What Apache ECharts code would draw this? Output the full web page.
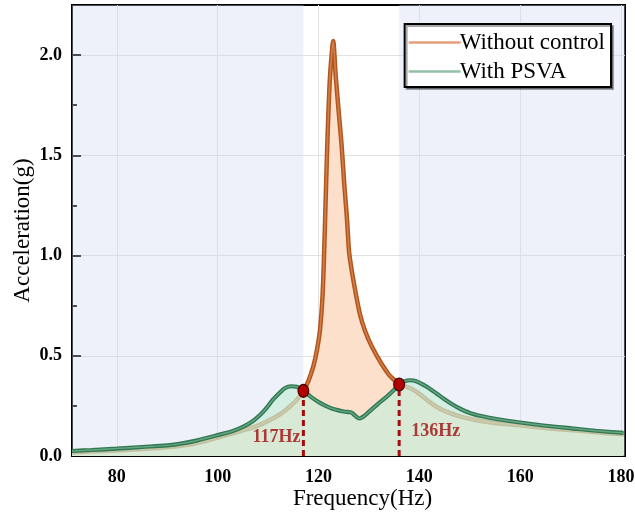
<!DOCTYPE html>
<html><head><meta charset="utf-8">
<script src="https://cdn.jsdelivr.net/npm/echarts@6/dist/echarts.min.js"></script>
<style>html,body{margin:0;padding:0;background:#fff}#c{width:635px;height:512px}</style>
</head><body><div id="c"></div>
<script>
const seriesNames = ['Without control', 'With PSVA'];

const freqNoCtrl = [71.1, 75, 80, 85, 90, 95, 100, 103, 105, 107, 109, 111, 112.5, 114, 115.5, 117, 118, 119, 119.7, 120.3, 120.8, 121.1, 121.5, 121.8, 122.1, 122.3, 122.6, 122.9, 123.4, 124.0, 124.6, 125.1, 125.6, 125.85, 126.1, 126.9, 128.2, 129.3, 130.6, 132.5, 134, 135.2, 136, 137.5, 138.5, 140, 142, 144, 146, 148, 150.7, 155, 160, 165, 170.6, 175, 180.5];
const accNoCtrl = [0.017, 0.022, 0.028, 0.035, 0.044, 0.06, 0.092, 0.113, 0.128, 0.143, 0.163, 0.188, 0.21, 0.24, 0.275, 0.325, 0.375, 0.45, 0.53, 0.63, 0.8, 1.0, 1.35, 1.6, 1.8, 1.9, 2.0, 2.07, 1.9, 1.72, 1.545, 1.36, 1.2, 1.1, 1.01, 0.88, 0.71, 0.62, 0.545, 0.46, 0.405, 0.375, 0.357, 0.345, 0.335, 0.31, 0.27, 0.237, 0.215, 0.198, 0.182, 0.165, 0.153, 0.14, 0.128, 0.118, 0.108];

const freqPSVA = [71.1, 75, 80, 85, 90, 93, 96, 100, 103, 105, 107, 108.5, 109.7, 111, 112.4, 113.3, 114.5, 115.7, 117, 118.5, 120.3, 122.3, 123.6, 125, 126.3, 126.8, 127.3, 128.1, 129, 130.2, 131.8, 133.5, 134.8, 136, 137, 138.2, 139.5, 141, 142, 143.4, 145, 146.5, 148, 150, 152.5, 155, 160, 165, 170.6, 175, 180.5];
const accPSVA = [0.025, 0.03, 0.037, 0.045, 0.053, 0.063, 0.078, 0.104, 0.125, 0.145, 0.175, 0.207, 0.24, 0.282, 0.318, 0.338, 0.348, 0.345, 0.325, 0.295, 0.265, 0.24, 0.23, 0.222, 0.218, 0.212, 0.2, 0.187, 0.198, 0.225, 0.26, 0.295, 0.325, 0.357, 0.372, 0.378, 0.372, 0.352, 0.337, 0.312, 0.283, 0.258, 0.237, 0.215, 0.198, 0.186, 0.167, 0.151, 0.137, 0.126, 0.115];

const crossFreq = [117, 136];
const crossAcc = [0.325, 0.357];
const crossLabels = ['117Hz', '136Hz'];
const crossLabelAcc = [0.095, 0.125];

const shadedBands = [[71.1, 117], [136, 180.8]];
const xMajorTicks = [80, 100, 120, 140, 160, 180];
const xMinorTicks = [90, 110, 130, 150, 170];
const yMajorTicks = [0, 0.5, 1.0, 1.5, 2.0];
const yMinorTicks = [0.25, 0.75, 1.25, 1.75];

const zip = (a, b) => a.map((v, i) => [v, b[i]]);
const SERIF = 'Liberation Serif';
const XMIN = 71.1, XMAX = 180.8, YMIN = 0, YMAX = 2.25;

const chart = echarts.init(document.getElementById('c'), null, {renderer: 'canvas'});

const tickStyle = {color: '#000', width: 2};
const series = [
  {
    type: 'line', data: [[XMIN, 0]], symbol: 'none', lineStyle: {opacity: 0}, silent: true, z: 1,
    markArea: {silent: true, itemStyle: {color: 'rgba(205,215,240,0.35)'},
      data: shadedBands.map(b => [{xAxis: b[0]}, {xAxis: b[1]}])}
  },
  {
    name: seriesNames[0], type: 'line', data: zip(freqNoCtrl, accNoCtrl), smooth: 0.3, symbol: 'none', z: 2,
    itemStyle: {color: '#e4a07a'},
    lineStyle: {color: '#b0561e', width: 4.5}, areaStyle: {color: '#fde0cc', opacity: 1}
  },
  {
    name: seriesNames[0], type: 'line', data: zip(freqNoCtrl, accNoCtrl), smooth: 0.3, symbol: 'none', z: 2,
    itemStyle: {color: '#e4a07a'},
    lineStyle: {color: '#d47c45', width: 1.6}
  },
  {
    name: seriesNames[1], type: 'line', data: zip(freqPSVA, accPSVA), smooth: 0.3, symbol: 'none', z: 3,
    itemStyle: {color: '#8fc0a4'},
    lineStyle: {color: '#2f7852', width: 4.2}, areaStyle: {color: 'rgba(199,238,216,0.7)', opacity: 1}
  },
  {
    name: seriesNames[1], type: 'line', data: zip(freqPSVA, accPSVA), smooth: 0.3, symbol: 'none', z: 3,
    itemStyle: {color: '#8fc0a4'},
    lineStyle: {color: '#66a482', width: 1.5}
  }
];
crossFreq.forEach((f, i) => {
  series.push({
    type: 'line', data: [[f, 0], [f, crossAcc[i]]], symbol: 'none', z: 4,
    lineStyle: {color: '#a50c0c', width: 3, type: [6, 4]}
  });
});
series.push({
  type: 'scatter', data: zip(crossFreq, crossAcc), symbol: 'circle', symbolSize: [11, 13], z: 6,
  itemStyle: {color: '#b00000', borderColor: '#3a0000', borderWidth: 1, opacity: 1}
});
series.push({
  type: 'scatter', symbolSize: 0, z: 6,
  data: crossFreq.map((f, i) => ({
    value: [f, crossLabelAcc[i]],
    label: {show: true, formatter: crossLabels[i], position: i === 0 ? 'left' : 'right', distance: i === 0 ? 3 : 12,
      color: '#a00c0c', fontFamily: SERIF, fontWeight: 'bold', fontSize: 18}
  }))
});

chart.setOption({
  animation: false,
  backgroundColor: '#fff',
  grid: {left: 72, right: 10, top: 5, bottom: 56, show: true, borderColor: '#000', borderWidth: 2,
    backgroundColor: 'transparent', outerBoundsMode: 'none', containLabel: false},
  legend: {
    data: [
      {name: seriesNames[0], icon: 'rect', itemStyle: {color: '#e4a07a'}},
      {name: seriesNames[1], icon: 'rect', itemStyle: {color: '#8fc0a4'}}
    ],
    orient: 'vertical', right: 24, top: 24, backgroundColor: '#fff',
    borderColor: '#000', borderWidth: 2, padding: [7, 6, 4, 4], itemGap: 6,
    itemWidth: 52, itemHeight: 2.5,
    shadowColor: 'rgba(0,0,0,0.35)', shadowOffsetX: 2, shadowOffsetY: 2, shadowBlur: 0,
    textStyle: {fontFamily: SERIF, fontSize: 23, color: '#000', padding: [0, 0, 0, -6]}
  },
  xAxis: [{
    type: 'value', min: XMIN, max: XMAX, position: 'bottom',
    axisLine: {show: true, onZero: false, lineStyle: {color: '#000', width: 2}},
    axisTick: {show: true, inside: true, length: 9, lineStyle: tickStyle, customValues: xMajorTicks},
    axisLabel: {customValues: xMajorTicks, color: '#000', fontFamily: SERIF, fontWeight: 'bold', fontSize: 18, margin: 12},
    splitLine: {show: true, lineStyle: {color: '#e2e2e2', width: 1}},
    name: 'Frequency(Hz)', nameLocation: 'middle', nameGap: 31, nameMoveOverlap: false,
    nameTextStyle: {fontFamily: SERIF, fontSize: 23, color: '#000', padding: [0, 0, 0, 28]}
  }, {
    type: 'value', min: XMIN, max: XMAX, position: 'bottom',
    axisLine: {show: false},
    axisTick: {show: true, inside: true, length: 5, lineStyle: tickStyle, customValues: xMinorTicks},
    axisLabel: {show: false}, splitLine: {show: false}
  }],
  yAxis: [{
    type: 'value', min: YMIN, max: YMAX, position: 'left',
    axisLine: {show: true, onZero: false, lineStyle: {color: '#000', width: 2}},
    axisTick: {show: true, inside: true, length: 9, lineStyle: tickStyle, customValues: yMajorTicks},
    axisLabel: {customValues: yMajorTicks, formatter: v => Number(v).toFixed(1), color: '#000', fontFamily: SERIF, fontWeight: 'bold', fontSize: 18, margin: 10},
    splitLine: {show: true, lineStyle: {color: '#e2e2e2', width: 1}},
    name: 'Acceleration(g)', nameLocation: 'middle', nameGap: 38, nameMoveOverlap: false,
    nameTextStyle: {fontFamily: SERIF, fontSize: 23, color: '#000'}
  }, {
    type: 'value', min: YMIN, max: YMAX, position: 'left',
    axisLine: {show: false},
    axisTick: {show: true, inside: true, length: 5, lineStyle: tickStyle, customValues: yMinorTicks},
    axisLabel: {show: false}, splitLine: {show: false}
  }],
  series: series
});
</script>
</body></html>
